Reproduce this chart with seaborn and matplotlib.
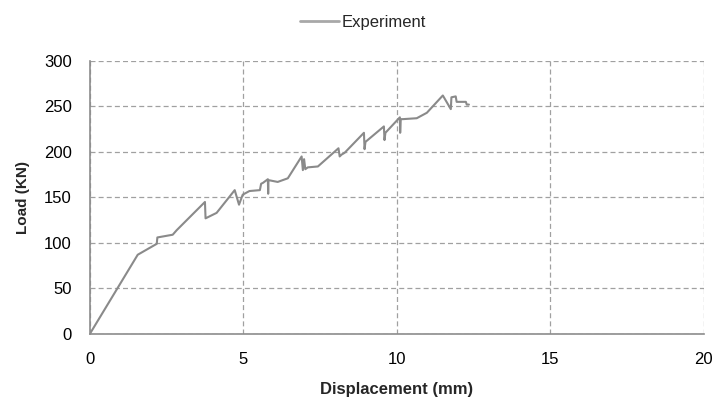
import matplotlib
matplotlib.use("Agg")
import matplotlib.pyplot as plt
import seaborn as sns
import pandas as pd

displacement = [0, 1.56, 2.18, 2.2, 2.7, 2.83, 3.75, 3.77, 4.13, 4.72, 4.86, 4.98, 5.2,
                5.54, 5.58, 5.64, 5.8, 5.81, 5.82, 6.12, 6.45, 6.9, 6.94, 6.98, 7.02,
                7.1, 7.43, 8.1, 8.14, 8.2, 8.3, 8.93, 8.95, 8.98, 9.58, 9.6, 9.63,
                10.1, 10.11, 10.13, 10.2, 10.65, 10.98, 11.5, 11.76, 11.78, 11.92,
                11.95, 12.25, 12.28, 12.35]
load = [0, 87, 99, 106, 109, 114, 145, 127, 133, 158, 142, 153, 157,
        158, 165, 166, 170, 154, 169, 167, 171, 195, 180, 192, 181,
        183, 184, 204, 195, 197, 199, 221, 203, 211, 228, 213, 221,
        238, 221, 236, 236, 237, 243, 262, 247, 260, 261,
        255, 255, 252, 252]

df = pd.DataFrame({"Displacement": displacement, "Load": load, "Series": "Experiment"})

sns.set_theme(style="white")
plt.rcParams['font.family'] = ['Liberation Sans', 'DejaVu Sans']

fig = plt.figure(figsize=(7.13, 3.98), dpi=100)
ax = fig.add_axes([0.126, 0.161, 0.861, 0.686])

sns.lineplot(data=df, x="Displacement", y="Load", hue="Series", sort=False,
             palette=["#8a8a8a"], linewidth=1.5, ax=ax, estimator=None)

ax.set_xlim(0, 20)
ax.set_ylim(0, 300)
ax.set_xticks([0, 5, 10, 15, 20])
ax.set_yticks(range(0, 301, 50))
ax.grid(True, linestyle=(0, (4, 2.5)), color="#a0a0a0", linewidth=0.9)
for s in ["top", "right"]:
    ax.spines[s].set_visible(False)
for s in ["left", "bottom"]:
    ax.spines[s].set_color("#8c8c8c")
    ax.spines[s].set_linewidth(1.2)
ax.tick_params(axis="y", labelsize=12, length=0, pad=13, colors="black")
ax.tick_params(axis="x", labelsize=12, length=0, pad=13, colors="black")
ax.set_xlabel("Displacement (mm)", fontsize=12, fontweight="bold", labelpad=11)
ax.set_ylabel("Load (KN)", fontsize=11, fontweight="bold", labelpad=10)

handles, labels = ax.get_legend_handles_labels()
leg = ax.legend(handles, labels, loc="center", bbox_to_anchor=(363 / 713, 1 - 22 / 398),
                bbox_transform=fig.transFigure, frameon=False, fontsize=12,
                handlelength=2.3, handletextpad=0.15, borderpad=0, borderaxespad=0)
for line in leg.get_lines():
    line.set_color("#a8a8a8")
    line.set_linewidth(2)

fig.savefig("out.png", dpi=100)
